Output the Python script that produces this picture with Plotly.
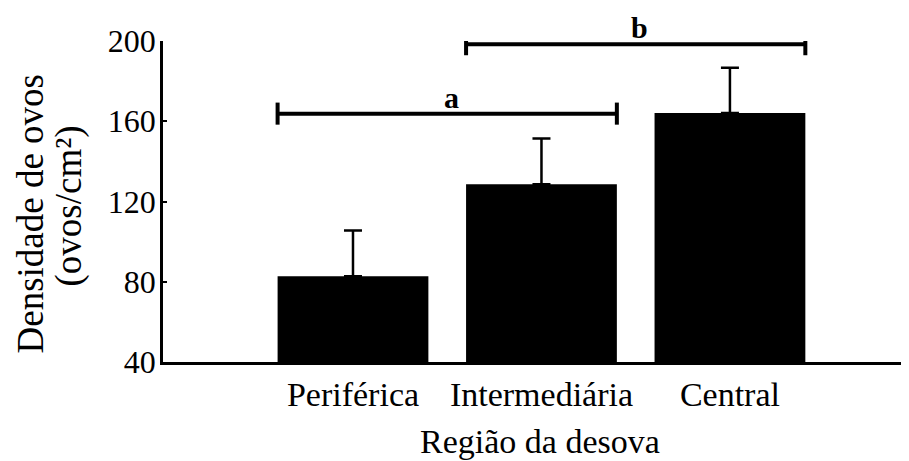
import plotly.graph_objects as go

# ---- data ----
categories = ["Periférica", "Intermediária", "Central"]
mean_density = [82.8, 128.6, 164.1]
upper_error = [105.5, 151.4, 186.7]

bracket_labels = ["a", "b"]
bracket_start = [0, 1]
bracket_end = [1, 2]
bracket_level = [163.8, 198.4]

y_ticks = [40, 80, 120, 160, 200]

# ---- style ----
FONT = "Liberation Serif"
BAR_W = 0.8
CAP_H = 5.5

x_pos = list(range(len(categories)))
err_plus = [u - m for u, m in zip(upper_error, mean_density)]

fig = go.Figure()
fig.add_trace(go.Bar(
    x=x_pos, y=mean_density, width=BAR_W,
    marker=dict(color="black", line=dict(width=0)),
    error_y=dict(type="data", symmetric=False, array=err_plus,
                 arrayminus=[0] * len(err_plus),
                 color="black", thickness=2.5, width=9),
    showlegend=False,
))

for lab, s, e, lvl in zip(bracket_labels, bracket_start, bracket_end, bracket_level):
    x0 = s - BAR_W / 2
    x1 = e + BAR_W / 2
    xs = [x0, x1, None, x0, x0, None, x1, x1]
    ys = [lvl, lvl, None, lvl - CAP_H, lvl + CAP_H, None, lvl - CAP_H, lvl + CAP_H]
    fig.add_trace(go.Scatter(x=xs, y=ys, mode="lines",
                             line=dict(color="black", width=4),
                             cliponaxis=False, showlegend=False,
                             hoverinfo="skip"))
    fig.add_annotation(x=(x0 + x1) / 2, y=lvl, xref="x", yref="y",
                       text=f"<b>{lab}</b>", showarrow=False,
                       yanchor="bottom", yshift=-2, xshift=4,
                       font=dict(family=FONT, size=30, color="black"))

# y-axis title (two lines)
fig.add_annotation(x=0, y=0.4626, xref="paper", yref="paper",
                   text="Densidade de ovos", textangle=-90, showarrow=False,
                   borderpad=0,
                   xanchor="center", yanchor="middle", xshift=-132,
                   font=dict(family=FONT, size=37, color="black"))
fig.add_annotation(x=0, y=0.4844, xref="paper", yref="paper",
                   text="(ovos/cm²)", textangle=-90, showarrow=False,
                   borderpad=0,
                   xanchor="center", yanchor="middle", xshift=-94,
                   font=dict(family=FONT, size=37, color="black"))
# x-axis title
fig.add_annotation(x=0.5, y=0, xref="paper", yref="paper",
                   text="Região da desova", showarrow=False, borderpad=0,
                   xanchor="center", yanchor="middle", yshift=-79, xshift=4,
                   font=dict(family=FONT, size=34, color="black"))

# page body adds an 8px offset, so the figure is sized/margined to compensate
fig.update_layout(
    width=901, height=453,
    margin=dict(l=155, r=0, t=33, b=99, autoexpand=False),
    paper_bgcolor="white", plot_bgcolor="white",
    font=dict(family=FONT, color="black"),
    bargap=0.2,
)
fig.update_xaxes(
    range=[-1.008, 2.95], tickmode="array", tickvals=x_pos, ticktext=categories,
    showline=True, linecolor="black", linewidth=2.5, ticks="",
    showgrid=False, zeroline=False, automargin=False,
    tickfont=dict(family=FONT, size=34, color="black"),
)
fig.update_yaxes(
    range=[40, 200], tickmode="array", tickvals=y_ticks,
    showline=True, linecolor="black", linewidth=2.5,
    ticks="inside", ticklen=4, tickwidth=2, tickcolor="black",
    showgrid=False, zeroline=False, automargin=False,
    ticklabelstandoff=-2,
    tickfont=dict(family=FONT, size=32, color="black"),
)

fig.write_html("out.html")
